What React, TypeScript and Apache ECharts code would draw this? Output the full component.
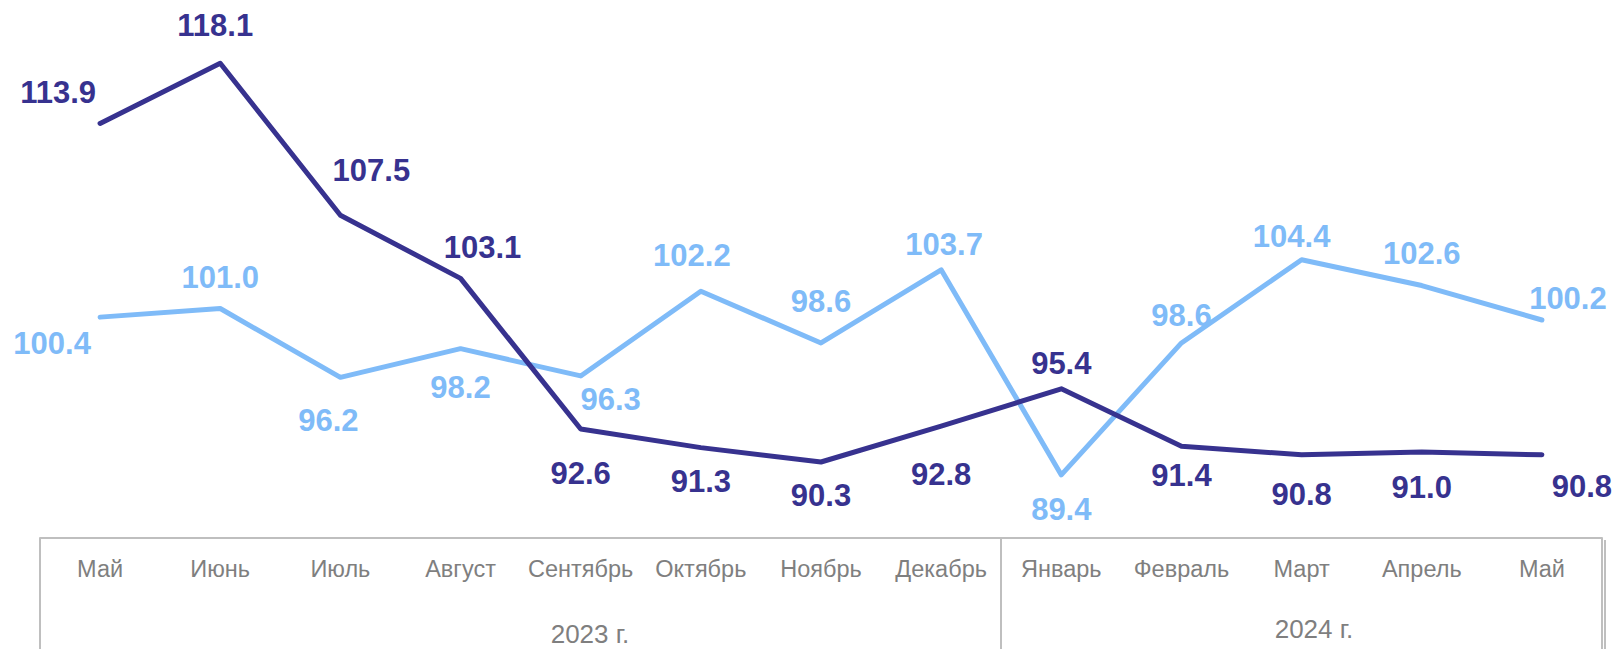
import React, { useEffect, useRef } from "react";
import * as echarts from "echarts";

const months = ["Май", "Июнь", "Июль", "Август", "Сентябрь", "Октябрь", "Ноябрь", "Декабрь", "Январь", "Февраль", "Март", "Апрель", "Май"];
const years = ["2023 г.", "2024 г."];
const darkValues = [113.9, 118.1, 107.5, 103.1, 92.6, 91.3, 90.3, 92.8, 95.4, 91.4, 90.8, 91.0, 90.8];
const lightValues = [100.4, 101.0, 96.2, 98.2, 96.3, 102.2, 98.6, 103.7, 89.4, 98.6, 104.4, 102.6, 100.2];

// label offsets (style only)
const darkOffsets: number[][] = [[-42, -31], [-5, -38], [31, -45], [22, -31], [0, 45], [0, 34], [0, 34], [0, 48], [0, -25], [0, 29], [0, 40], [0, 36], [40, 32]];
const lightOffsets: number[][] = [[-48, 26], [0, -31], [-12, 43], [0, 39], [30, 24], [-9, -36], [0, -41], [3, -25], [0, 35], [0, -27], [-10, -23], [0, -32], [26, -21]];

const DARK = "#37328f";
const LIGHT = "#7fbbf8";
const FONT = "Arial, 'Liberation Sans', sans-serif";

function makeSeries(name: string, values: number[], offsets: number[][], color: string) {
  return {
    name,
    type: "line",
    symbol: "circle",
    symbolSize: 1,
    showSymbol: true,
    itemStyle: { color },
    lineStyle: { color, width: 5, cap: "round", join: "round" },
    data: values.map((v, i) => ({
      value: v,
      label: { offset: offsets[i] },
    })),
    label: {
      show: true,
      position: "inside",
      color,
      fontFamily: FONT,
      fontWeight: "bold",
      fontSize: 31,
      formatter: (p: any) => Number(p.value).toFixed(1),
    },
    z: 3,
  };
}

export default function App() {
  const ref = useRef<HTMLDivElement>(null);
  useEffect(() => {
    if (!ref.current) return;
    const chart = echarts.init(ref.current, null, { renderer: "svg" });
    chart.setOption({
      animation: false,
      backgroundColor: "#ffffff",
      grid: { left: 40, right: 16, top: 36, bottom: 111 },
      xAxis: {
        type: "category",
        data: months,
        boundaryGap: true,
        axisLine: { show: true, lineStyle: { color: "#bfbfbf", width: 2 } },
        axisTick: {
          show: true,
          interval: (index: number) => index === 0 || index === 8,
          length: 111,
          lineStyle: { color: "#bfbfbf", width: 2 },
        },
        axisLabel: {
          color: "#7f7f7f",
          fontFamily: FONT,
          fontSize: 23.5,
          margin: 19,
          interval: 0,
        },
      },
      yAxis: {
        type: "value",
        min: 85,
        max: 120,
        show: false,
        splitLine: { show: false },
      },
      graphic: [
        { type: "line", shape: { x1: 1605, y1: 540, x2: 1605, y2: 649 }, style: { stroke: "#bfbfbf", lineWidth: 2 } },
        { type: "text", x: 590, y: 634, style: { text: years[0], fill: "#7f7f7f", font: `26px ${FONT}`, textAlign: "center", textVerticalAlign: "middle" } },
        { type: "text", x: 1314, y: 629, style: { text: years[1], fill: "#7f7f7f", font: `26px ${FONT}`, textAlign: "center", textVerticalAlign: "middle" } },
      ],
      series: [
        makeSeries("light", lightValues, lightOffsets, LIGHT),
        makeSeries("dark", darkValues, darkOffsets, DARK),
      ],
    });
    return () => chart.dispose();
  }, []);
  return <div ref={ref} style={{ position: "fixed", left: 0, top: 0, width: 1618, height: 649 }} />;
}
